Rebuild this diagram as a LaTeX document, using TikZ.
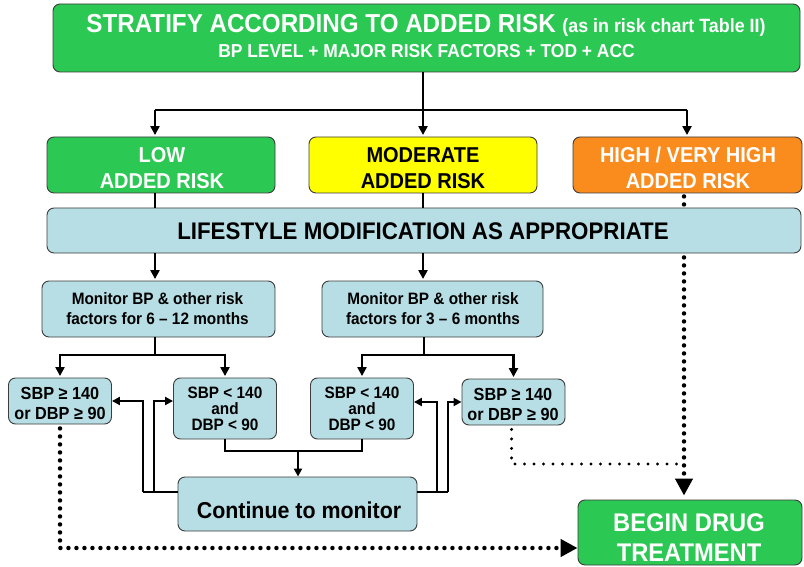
\documentclass[tikz,border=0pt]{standalone}
\usepackage{fontspec}
\setmainfont{Liberation Sans}[FakeStretch=0.93]
\usetikzlibrary{arrows.meta,calc}
\definecolor{boxgreen}{RGB}{44,200,84}
\definecolor{boxblue}{RGB}{183,222,228}
\definecolor{boxyellow}{RGB}{255,255,0}
\definecolor{boxorange}{RGB}{250,140,30}
\definecolor{edgegray}{RGB}{60,60,60}
\tikzset{
  box/.style={draw=edgegray, line width=0.9pt, rounded corners=7pt, inner sep=0pt},
  txt/.style={inner sep=0pt, align=center},
  conn/.style={line width=2.7pt, black},
  thinconn/.style={line width=2.2pt, black},
  arr/.style={conn, -{Triangle[length=9pt,width=9pt]}, shorten >=1.5pt},
  thinarr/.style={thinconn, -{Triangle[length=8pt,width=8pt]}},
  dotbig/.style={line width=4.5pt, dash pattern=on 0pt off 8pt, line cap=round},
  dotsmall/.style={line width=3.4pt, dash pattern=on 0pt off 9.5pt, line cap=round},
  bigtip/.style={-{Triangle[length=17pt,width=17pt]}}
}
\begin{document}
\begin{tikzpicture}[x=1pt,y=-1pt]
\useasboundingbox (0,0) rectangle (804,567);
% boxes
\node[box, fill=boxgreen, minimum width=747pt, minimum height=68pt] (top) at (426.5,38) {};
\node[box, fill=boxgreen, minimum width=228pt, minimum height=56pt] (low) at (161,165) {};
\node[box, fill=boxyellow, minimum width=228pt, minimum height=56pt] (mod) at (423,165) {};
\node[box, fill=boxorange, minimum width=229pt, minimum height=56pt] (high) at (687.5,165) {};
\node[box, fill=boxblue, minimum width=754pt, minimum height=45pt] (life) at (424,230.5) {};
\node[box, fill=boxblue, minimum width=233pt, minimum height=56pt] (mon1) at (158.5,309) {};
\node[box, fill=boxblue, minimum width=221pt, minimum height=56pt] (mon2) at (432.5,309) {};
\node[box, fill=boxblue, minimum width=103pt, minimum height=46pt] (L1) at (60,401) {};
\node[box, fill=boxblue, minimum width=103pt, minimum height=61pt] (L2) at (225,408.5) {};
\node[box, fill=boxblue, minimum width=103pt, minimum height=61pt] (M1) at (362,408.5) {};
\node[box, fill=boxblue, minimum width=103pt, minimum height=46pt] (R1) at (513.5,402) {};
\node[box, fill=boxblue, minimum width=239pt, minimum height=54pt] (cont) at (297.5,504) {};
\node[box, fill=boxgreen, minimum width=224pt, minimum height=65pt] (begin) at (690,532.5) {};
% texts
\node[txt, anchor=base, text=white, font=\bfseries\fontsize{26}{30}\selectfont] (t1) at (426,33)
  {STRATIFY ACCORDING TO ADDED RISK {\fontsize{19.2}{22}\selectfont (as in risk chart Table II)}};
\node[txt, anchor=base, text=white, font=\bfseries\fontsize{18.75}{22}\selectfont] (t2) at (426.5,58)
  {BP LEVEL + MAJOR RISK FACTORS + TOD + ACC};
\node[txt, anchor=north, text=white, font=\bfseries\fontsize{21.5}{26}\selectfont] (lowt) at (162,147) {LOW\\ADDED RISK};
\node[txt, anchor=north, text=black, font=\bfseries\fontsize{21.5}{26}\selectfont] (modt) at (423,147) {MODERATE\\ADDED RISK};
\node[txt, anchor=north, text=white, font=\bfseries\fontsize{21.5}{26}\selectfont] (hight) at (688,147) {HIGH / VERY HIGH\\ADDED RISK};
\node[txt, anchor=base, text=black, font=\bfseries\fontsize{24}{28}\selectfont] (lifet) at (423,240) {LIFESTYLE MODIFICATION AS APPROPRIATE};
\node[txt, anchor=north, font=\bfseries\fontsize{16.5}{20}\selectfont] (mon1t) at (157.5,292.5) {Monitor BP \& other risk\\factors for 6 -- 12 months};
\node[txt, anchor=north, font=\bfseries\fontsize{16.5}{20}\selectfont] (mon2t) at (433,292.5) {Monitor BP \& other risk\\factors for 3 -- 6 months};
\node[txt, anchor=north, font=\bfseries\fontsize{17.5}{20}\selectfont] (L1t) at (60,387) {SBP ≥ 140\\or DBP ≥ 90};
\node[txt, anchor=north, font=\bfseries\fontsize{16.5}{16}\selectfont] (L2t) at (225,387) {SBP < 140\\and\\DBP < 90};
\node[txt, anchor=north, font=\bfseries\fontsize{16.5}{16}\selectfont] (M1t) at (362,387) {SBP < 140\\and\\DBP < 90};
\node[txt, anchor=north, font=\bfseries\fontsize{17.5}{20}\selectfont] (R1t) at (513,388) {SBP ≥ 140\\or DBP ≥ 90};
\node[txt, anchor=base, font=\bfseries\fontsize{23}{27}\selectfont] (contt) at (299,518) {Continue to monitor};
\node[txt, anchor=north, text=white, font=\bfseries\fontsize{25.5}{30}\selectfont] (begint) at (689,513) {BEGIN DRUG\\TREATMENT};
% coordinates
\coordinate (s0) at (423,110);
\coordinate (sL) at (155,110);
\coordinate (sH) at (687,110);
\coordinate (dx) at (684,0);
\coordinate (b1) at (155,355);
\coordinate (b2) at (424,355);
\coordinate (mg) at (298,451);
\coordinate (lp1) at (143,492);
\coordinate (lp2) at (154,492);
\coordinate (rp1) at (437,492);
\coordinate (rp2) at (448,492);
\coordinate (dbot) at (60,548);
\coordinate (djoin) at (684,464);
% connectors
\draw[thinconn] (top.south -| s0) -- (s0);
\draw[conn] (sL) -- (sH);
\draw[arr] (sL) -- (sL |- low.north);
\draw[arr] (s0) -- (s0 |- mod.north);
\draw[arr] (sH) -- (sH |- high.north);
\draw[conn] (sL |- low.south) -- (sL |- life.north);
\draw[conn] (s0 |- mod.south) -- (s0 |- life.north);
\draw[dotbig] ($(dx |- high.south)+(0,3)$) -- (dx |- life.north);
\draw[arr] (sL |- life.south) -- (sL |- mon1.north);
\draw[arr] (s0 |- life.south) -- (s0 |- mon2.north);
\draw[thinconn] (sL |- mon1.south) -- (b1);
\draw[arr] (b1) -| (L1.north);
\draw[arr] (b1) -| (L2.north);
\draw[thinconn] (b2 |- mon2.south) -- (b2);
\draw[arr] (b2) -| (M1.north);
\draw[arr] (b2) -| (R1.north);
\draw[thinconn] (L2.south) |- (mg) -| (M1.south);
\draw[thinarr] (mg) -- (mg |- cont.north);
\draw[thinconn] (cont.west |- lp1) -- (lp1);
\draw[thinarr] (lp1) |- (L1.east);
\draw[thinarr] (lp2) |- (L2.west |- L1.east);
\draw[thinconn] (cont.east |- rp2) -- (rp2);
\draw[thinarr] (rp1) |- (M1.east |- R1.west);
\draw[thinarr] (rp2) |- (R1.west);
\draw[dotbig, bigtip] ($(L1.south)+(0,4)$) |- (begin.west |- dbot);
\draw[dotbig, bigtip, shorten >=4pt] ($(dx |- life.south)+(0,4)$) -- (dx |- begin.north);
\draw[dotsmall] ($(R1.south)+(-2,4)$) |- (djoin);
\end{tikzpicture}
\end{document}
